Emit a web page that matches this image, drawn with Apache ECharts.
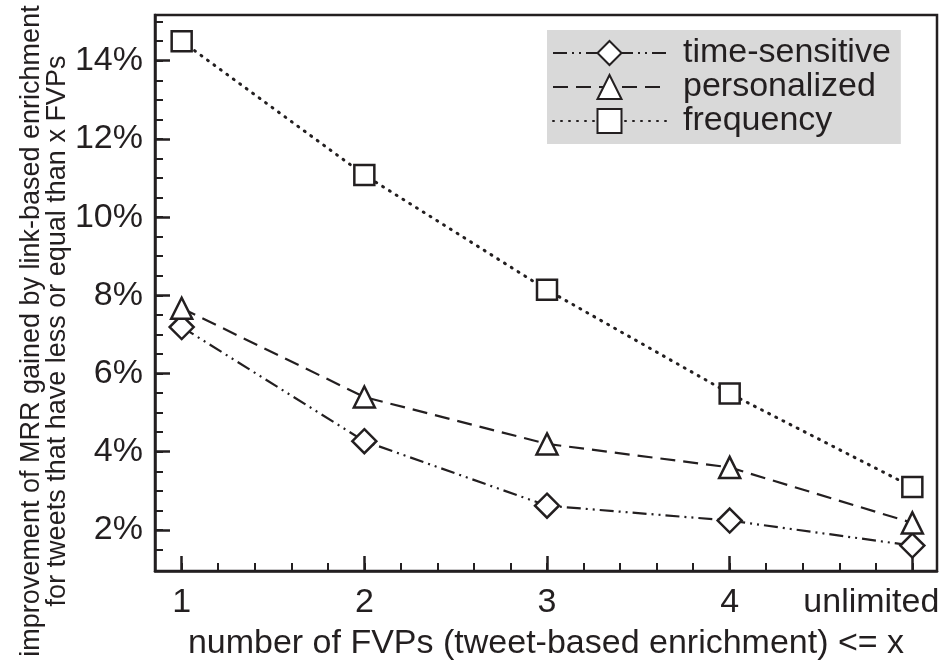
<!DOCTYPE html>
<html>
<head>
<meta charset="utf-8">
<script src="https://cdn.jsdelivr.net/npm/echarts@6/dist/echarts.min.js"></script>
<style>
html,body{margin:0;padding:0;background:#fff;}
#chart{width:942px;height:662px;}
</style>
</head>
<body>
<div id="chart"></div>
<script>
var categories = ['1', '2', '3', '4', 'unlimited'];
var xPositions = [1, 2, 3, 4, 5];
var timeSensitive = [7.19, 4.27, 2.62, 2.24, 1.60];
var personalized = [7.67, 5.40, 4.20, 3.60, 2.18];
var frequency = [14.50, 11.08, 8.14, 5.49, 3.10];
var yTickValues = [2, 4, 6, 8, 10, 12, 14];
var seriesNames = ['time-sensitive', 'personalized', 'frequency'];

var INK = '#231f20';
var FONT = '"Liberation Sans", Arial, Helvetica, sans-serif';

var xMinor = [];
for (var v = 1; v <= 5.0001; v += 0.2) { xMinor.push(Math.round(v * 10) / 10); }
var yMinor = [];
for (var w = 1.5; w <= 15.0001; w += 0.5) { yMinor.push(w); }

function pairs(arr) { return arr.map(function (y, i) { return [xPositions[i], y]; }); }

var xRange = { min: 0.854, max: 5.135 };
var yRange = { min: 0.95, max: 15.17 };

function mkSeries(name, data, symbol, size, dash, width, cap) {
  return {
    name: name, type: 'line', data: pairs(data),
    xAxisIndex: 0, yAxisIndex: 0,
    symbol: symbol, symbolSize: size, showSymbol: true,
    lineStyle: { color: INK, width: width, type: dash, cap: cap },
    itemStyle: { color: '#fff', borderColor: INK, borderWidth: 2.5 },
    emphasis: { disabled: true },
    animation: false, z: 3
  };
}

var chart = echarts.init(document.getElementById('chart'), null, { renderer: 'canvas' });
chart.setOption({
  animation: false,
  backgroundColor: '#fff',
  textStyle: { fontFamily: FONT },
  grid: { left: 155, top: 15, right: 5, bottom: 91, show: true, borderColor: INK, borderWidth: 2.5,
    backgroundColor: 'transparent', containLabel: false, outerBoundsMode: 'none' },
  legend: {
    show: true, orient: 'vertical', left: 547, top: 30,
    data: seriesNames,
    backgroundColor: '#d9d9d9', borderWidth: 0,
    padding: [6, 10, 6, 5],
    itemWidth: 113, itemHeight: 30, itemGap: 0,
    textStyle: { fontSize: 34, color: INK, fontFamily: FONT, lineHeight: 33, padding: [0, 0, 0, 12] },
    selectedMode: false
  },
  xAxis: [
    {
      type: 'value', min: xRange.min, max: xRange.max, position: 'bottom',
      axisLine: { show: true, lineStyle: { color: INK, width: 2.5 } },
      axisTick: { show: true, inside: true, length: 15, lineStyle: { color: INK, width: 2.5 }, customValues: xPositions },
      axisLabel: { show: true, customValues: xPositions, margin: 15, fontSize: 34, color: INK, fontFamily: FONT,
        overflow: 'none', hideOverlap: false,
        formatter: function (val) {
          var i = xPositions.indexOf(Math.round(val));
          if (i < 0) return '';
          return i === categories.length - 1 ? '{last|' + categories[i] + '}' : categories[i];
        },
        rich: { last: { fontSize: 34, color: INK, fontFamily: FONT, padding: [0, 82, 0, 0] } } },
      splitLine: { show: false },
      name: 'number of FVPs (tweet-based enrichment) <= x',
      nameLocation: 'middle', nameGap: 56,
      nameTextStyle: { fontSize: 34, color: INK, fontFamily: FONT }
    },
    {
      type: 'value', min: xRange.min, max: xRange.max, position: 'bottom',
      axisLine: { show: false },
      axisTick: { show: true, inside: true, length: 8, lineStyle: { color: INK, width: 2 }, customValues: xMinor },
      axisLabel: { show: false },
      splitLine: { show: false }
    }
  ],
  yAxis: [
    {
      type: 'value', min: yRange.min, max: yRange.max, position: 'left',
      axisLine: { show: true, lineStyle: { color: INK, width: 2.5 } },
      axisTick: { show: true, inside: true, length: 15, lineStyle: { color: INK, width: 2.5 }, customValues: yTickValues },
      axisLabel: { show: true, customValues: yTickValues, margin: 12, fontSize: 34, color: INK, fontFamily: FONT,
        formatter: function (val) { return Math.round(val) + '%'; } },
      splitLine: { show: false }
    },
    {
      type: 'value', min: yRange.min, max: yRange.max, position: 'left',
      axisLine: { show: false },
      axisTick: { show: true, inside: true, length: 8, lineStyle: { color: INK, width: 2 }, customValues: yMinor },
      axisLabel: { show: false },
      splitLine: { show: false }
    }
  ],
  graphic: [
    {
      type: 'text', x: 45, y: 331, rotation: Math.PI / 2,
      style: {
        text: 'improvement of MRR gained by link-based enrichment\nfor tweets that have less or equal than x FVPs',
        fontSize: 27, lineHeight: 26, fontFamily: FONT, fill: INK,
        align: 'center', verticalAlign: 'middle'
      }
    }
  ],
  series: [
    mkSeries(seriesNames[0], timeSensitive, 'diamond', 24, [14, 5, 2, 5, 2, 5], 2.2, 'butt'),
    mkSeries(seriesNames[1], personalized, 'triangle', 21, [15, 8], 2.2, 'butt'),
    mkSeries(seriesNames[2], frequency, 'rect', 20, [1, 7], 3, 'round')
  ]
});
</script>
</body>
</html>
